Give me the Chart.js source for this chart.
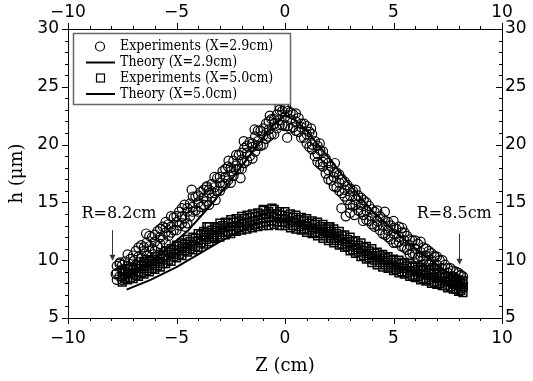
<!DOCTYPE html>
<html>
<head>
<meta charset="utf-8">
<script src="https://cdn.jsdelivr.net/npm/chart.js@4.4.0/dist/chart.umd.min.js"></script>
<style>
  html, body { margin: 0; padding: 0; background: #fff; }
  #wrap { width: 533px; height: 381px; }
</style>
</head>
<body>
<div id="wrap"><canvas id="my-chart"></canvas></div>
<script>
'use strict';

// *************** DATA
// experiments X=2.9cm : [z, h, h, ...]
let circleRows29 = [
  [-7.75, 9.5, 8.9, 8.3], [-7.5, 9.6, 9.2, 8.3], [-7.25, 10.5, 9.5, 9.2], [-7.0, 10.4, 9.9, 9.2],
  [-6.75, 11.1, 10.3, 9.8], [-6.5, 11.1, 10.8, 9.8], [-6.25, 12.1, 11.2, 10.8], [-6.0, 12.2, 11.6, 10.8],
  [-5.75, 12.7, 12.0, 11.4], [-5.5, 12.8, 12.4, 11.5], [-5.25, 13.8, 12.9, 12.4], [-5.0, 13.8, 13.3, 12.6],
  [-4.75, 14.5, 13.8, 13.2], [-4.5, 14.5, 14.2, 13.2], [-4.25, 15.5, 14.6, 14.2], [-4.0, 15.6, 15.0, 14.2],
  [-3.75, 16.1, 15.4, 14.8], [-3.5, 16.1, 15.8, 14.8], [-3.25, 17.2, 16.3, 15.8], [-3.0, 17.2, 16.7, 16.0],
  [-2.75, 17.9, 17.2, 16.6], [-2.5, 18.0, 17.7, 16.7], [-2.25, 19.1, 18.2, 17.8], [-2.0, 19.3, 18.7, 17.9],
  [-1.75, 19.9, 19.3, 18.6], [-1.5, 20.1, 19.8, 18.8], [-1.25, 21.2, 20.3, 19.9], [-1.0, 21.4, 20.8, 20.0],
  [-0.75, 22.0, 21.3, 20.7], [-0.5, 22.2, 21.8, 20.9], [-0.25, 23.0, 22.1, 21.7], [0.0, 23.1, 22.4, 21.6],
  [0.25, 22.8, 22.2, 21.4], [0.5, 22.7, 22.0, 21.2], [0.75, 21.8, 21.5, 20.6], [1.0, 21.6, 20.9, 20.1],
  [1.25, 20.9, 20.0, 19.6], [1.5, 19.9, 19.2, 18.5], [1.75, 19.4, 18.5, 18.1], [2.0, 18.4, 17.8, 17.0],
  [2.25, 17.6, 17.2, 16.4], [2.5, 17.4, 16.7, 16.0], [2.75, 16.8, 16.1, 15.5], [3.0, 16.2, 15.6, 14.8],
  [3.25, 16.1, 15.2, 14.8], [3.5, 15.4, 14.8, 14.2], [3.75, 15.0, 14.3, 13.5], [4.0, 14.4, 13.8, 13.1],
  [4.25, 14.3, 13.4, 13.0], [4.5, 13.6, 13.0, 12.3], [4.75, 13.3, 12.6, 12.0], [5.0, 12.8, 12.3, 11.5],
  [5.25, 12.9, 12.0, 11.6], [5.5, 12.4, 11.7, 11.1], [5.75, 11.8, 11.3, 10.5], [6.0, 11.7, 11.0, 10.5],
  [6.25, 11.6, 10.7, 10.3], [6.5, 11.0, 10.4, 9.9], [6.75, 10.6, 10.0, 9.3], [7.0, 10.3, 9.6, 9.1],
  [7.25, 10.0, 9.3, 8.7], [7.5, 9.3, 8.9, 8.3], [7.75, 9.1, 8.6, 8.0], [8.0, 8.9, 8.3, 7.9],
  [8.2, 8.6, 8.0, 7.6],
  [-7.625, 9.7, 8.6], [-7.375, 9.9, 8.9], [-7.125, 10.1, 9.3], [-6.875, 10.8, 9.6],
  [-6.625, 11.3, 10.2], [-6.375, 11.5, 10.4], [-6.125, 12.0, 11.0], [-5.875, 12.5, 11.2],
  [-5.625, 12.9, 11.8], [-5.375, 13.1, 12.1], [-5.125, 13.7, 12.6], [-4.875, 14.2, 13.0],
  [-4.625, 14.8, 13.6], [-4.375, 14.9, 13.8], [-4.125, 15.5, 14.3], [-3.875, 15.9, 14.6],
  [-3.625, 16.3, 15.1], [-3.375, 16.6, 15.4], [-3.125, 17.1, 16.0], [-2.875, 17.7, 16.4],
  [-2.625, 18.1, 16.9], [-2.375, 18.6, 17.3], [-2.125, 19.1, 17.9], [-1.875, 19.7, 18.4],
  [-1.625, 20.2, 19.0], [-1.375, 20.7, 19.4], [-1.125, 21.2, 19.9], [-0.875, 21.8, 20.5],
  [-0.625, 22.2, 20.9], [-0.375, 22.6, 21.4], [-0.125, 22.9, 21.7], [0.125, 22.9, 21.6],
  [0.375, 22.6, 21.5], [0.625, 22.3, 21.1], [0.875, 21.8, 20.6], [1.125, 21.1, 19.8],
  [1.375, 20.3, 19.0], [1.625, 19.5, 18.3], [1.875, 18.8, 17.5], [2.125, 18.1, 16.9],
  [2.375, 17.6, 16.3], [2.625, 17.0, 15.8], [2.875, 16.5, 15.2], [3.125, 16.0, 14.7],
  [3.375, 15.6, 14.3], [3.625, 15.2, 13.9], [3.875, 14.7, 13.4], [4.125, 14.2, 12.9],
  [4.375, 13.8, 12.6], [4.625, 13.4, 12.2], [4.875, 13.0, 11.8], [5.125, 12.7, 11.5],
  [5.375, 12.4, 11.2], [5.625, 12.1, 10.9], [5.875, 11.7, 10.6], [6.125, 11.4, 10.2],
  [6.375, 11.1, 10.0], [6.625, 10.8, 9.6], [6.875, 10.4, 9.2], [7.125, 10.0, 8.9],
  [7.375, 9.6, 8.5], [7.625, 9.3, 8.2], [7.875, 9.0, 7.9], [8.1, 8.7, 7.7]
];
// stray circles off the band
let circleExtra29 = [
  [-7.6, 9.8], [-7.8, 8.8], [-6.4, 12.3], [-5.5, 13.3], [-4.3, 16.1], [-3.6, 16.4],
  [-2.05, 17.1], [-1.9, 20.3], [-0.7, 22.5], [-0.25, 23.3], [0.05, 23.3], [0.1, 20.6],
  [1.2, 21.4], [2.6, 14.5], [2.8, 13.8], [3.0, 14.1], [3.2, 13.9], [4.6, 14.2],
  [5.0, 13.4], [6.9, 10.3], [8.1, 8.7], [-4.6, 12.9], [-3.2, 15.2], [-2.6, 18.6],
  [-1.4, 21.3], [1.6, 20.1], [2.3, 18.4], [3.6, 13.4], [5.4, 12.8], [6.3, 9.6]
];
// experiments X=5.0cm : [z, h, h, ...]
let squareRows50 = [
  [-7.5, 9.1, 8.6, 8.1], [-7.25, 9.3, 8.8, 8.3], [-7.0, 9.4, 8.9, 8.4], [-6.75, 9.6, 9.0, 8.6],
  [-6.5, 9.9, 9.3, 8.8], [-6.25, 10.0, 9.5, 9.0], [-6.0, 10.3, 9.7, 9.2], [-5.75, 10.5, 9.9, 9.4],
  [-5.5, 10.8, 10.2, 9.7], [-5.25, 11.0, 10.5, 9.9], [-5.0, 11.3, 10.7, 10.2], [-4.75, 11.5, 11.0, 10.4],
  [-4.5, 11.8, 11.2, 10.7], [-4.25, 12.0, 11.4, 10.9], [-4.0, 12.3, 11.7, 11.1], [-3.75, 12.5, 12.0, 11.4],
  [-3.5, 12.9, 12.2, 11.6], [-3.25, 12.9, 12.4, 11.9], [-3.0, 13.2, 12.6, 12.0], [-2.75, 13.3, 12.8, 12.2],
  [-2.5, 13.5, 12.9, 12.3], [-2.25, 13.6, 13.0, 12.5], [-2.0, 13.8, 13.2, 12.6], [-1.75, 13.9, 13.3, 12.7],
  [-1.5, 14.0, 13.4, 12.8], [-1.25, 14.1, 13.5, 12.9], [-1.0, 14.3, 13.6, 13.0], [-0.75, 14.2, 13.7, 13.0],
  [-0.5, 14.4, 13.7, 13.1], [-0.25, 14.2, 13.6, 13.0], [0.0, 14.2, 13.6, 13.0], [0.25, 14.0, 13.4, 12.8],
  [0.5, 13.9, 13.3, 12.7], [0.75, 13.7, 13.1, 12.6], [1.0, 13.6, 13.0, 12.4], [1.25, 13.4, 12.8, 12.3],
  [1.5, 13.3, 12.7, 12.1], [1.75, 13.1, 12.5, 11.9], [2.0, 12.9, 12.3, 11.7], [2.25, 12.7, 12.1, 11.5],
  [2.5, 12.5, 11.9, 11.3], [2.75, 12.2, 11.6, 11.1], [3.0, 12.0, 11.4, 10.8], [3.25, 11.7, 11.1, 10.6],
  [3.5, 11.5, 10.9, 10.3], [3.75, 11.2, 10.6, 10.1], [4.0, 11.0, 10.4, 9.8], [4.25, 10.7, 10.2, 9.6],
  [4.5, 10.5, 10.0, 9.4], [4.75, 10.3, 9.8, 9.3], [5.0, 10.1, 9.6, 9.1], [5.25, 10.0, 9.4, 8.9],
  [5.5, 9.8, 9.3, 8.8], [5.75, 9.7, 9.1, 8.6], [6.0, 9.5, 9.0, 8.5], [6.25, 9.4, 8.8, 8.3],
  [6.5, 9.2, 8.7, 8.2], [6.75, 9.1, 8.5, 8.0], [7.0, 8.9, 8.4, 7.9], [7.25, 8.8, 8.2, 7.8],
  [7.5, 8.6, 8.1, 7.6], [7.75, 8.5, 7.9, 7.5], [8.0, 8.3, 7.8, 7.3], [8.2, 8.2, 7.7, 7.2],
  [-7.375, 9.0, 8.4], [-7.125, 9.2, 8.5], [-6.875, 9.3, 8.7], [-6.625, 9.5, 8.9],
  [-6.375, 9.7, 9.1], [-6.125, 9.9, 9.3], [-5.875, 10.1, 9.5], [-5.625, 10.4, 9.7],
  [-5.375, 10.7, 10.0], [-5.125, 10.9, 10.3], [-4.875, 11.2, 10.5], [-4.625, 11.4, 10.8],
  [-4.375, 11.6, 11.0], [-4.125, 11.9, 11.2], [-3.875, 12.2, 11.5], [-3.625, 12.4, 11.8],
  [-3.375, 12.6, 12.0], [-3.125, 12.8, 12.2], [-2.875, 13.0, 12.4], [-2.625, 13.2, 12.5],
  [-2.375, 13.3, 12.6], [-2.125, 13.4, 12.8], [-1.875, 13.6, 12.9], [-1.625, 13.7, 13.0],
  [-1.375, 13.8, 13.1], [-1.125, 13.9, 13.2], [-0.875, 14.0, 13.3], [-0.625, 14.0, 13.4],
  [-0.375, 14.0, 13.3], [-0.125, 13.9, 13.3], [0.125, 13.8, 13.2], [0.375, 13.7, 13.0],
  [0.625, 13.5, 12.9], [0.875, 13.4, 12.7], [1.125, 13.2, 12.6], [1.375, 13.1, 12.4],
  [1.625, 12.9, 12.3], [1.875, 12.7, 12.1], [2.125, 12.5, 11.9], [2.375, 12.3, 11.7],
  [2.625, 12.1, 11.4], [2.875, 11.8, 11.2], [3.125, 11.6, 10.9], [3.375, 11.3, 10.7],
  [3.625, 11.1, 10.4], [3.875, 10.8, 10.2], [4.125, 10.6, 10.0], [4.375, 10.4, 9.8],
  [4.625, 10.2, 9.6], [4.875, 10.0, 9.4], [5.125, 9.8, 9.2], [5.375, 9.7, 9.0],
  [5.625, 9.5, 8.9], [5.875, 9.4, 8.7], [6.125, 9.2, 8.6], [6.375, 9.1, 8.4],
  [6.625, 8.9, 8.3], [6.875, 8.8, 8.1], [7.125, 8.6, 8.0], [7.375, 8.5, 7.8],
  [7.625, 8.3, 7.7], [7.875, 8.2, 7.5], [8.1, 8.1, 7.4]
];
let squareExtra50 = [[-3.6, 12.9], [-3.3, 12.0], [-1.0, 14.4], [2.07, 12.9], [-0.6, 14.5]];

// theory curves
let theoryZ29 = [-7.6, -6.5, -5.5, -4.5, -3.5, -2.5, -1.5, -0.5, 0, 0.5, 1, 2, 3, 4, 5, 6, 7, 8];
let theoryH29 = [8.1, 9.5, 10.9, 12.5, 14.6, 16.9, 19.4, 21.8, 22.5, 22.1, 21.2, 18.9, 16.5, 14.3, 12.6, 11.0, 9.6, 8.3];
let theoryZ50 = [-7.3, -6.2, -5, -4, -3, -2, -1, -0.3, 0.5, 1.5, 2.5, 3.5, 4.5, 5.5, 6.5, 7.5, 8];
let theoryH50 = [7.45, 8.3, 9.4, 10.5, 11.6, 12.6, 13.3, 13.5, 13.3, 12.8, 12.0, 11.0, 10.0, 9.2, 8.5, 7.9, 7.6];

// arrows marking the edges
let edgeNotes = [
  { text: 'R=8.2cm', z: -7.95, labelZ: -7.65, labelH: 14.0, fromH: 12.6, toH: 9.95 },
  { text: 'R=8.5cm', z: 8.0, labelZ: 7.8, labelH: 14.0, fromH: 12.3, toH: 9.6 }
];

let zTickLabels = [-10, -5, 0, 5, 10];
let hTickLabels = [5, 10, 15, 20, 25, 30];

let legendLabels = ['Experiments (X=2.9cm)', 'Theory (X=2.9cm)', 'Experiments (X=5.0cm)', 'Theory (X=5.0cm)'];

// *************** HELPERS
function rowsToPoints(rows, extra) {
  let pts = [];
  for (let i = 0; i < rows.length; i++) {
    for (let j = 1; j < rows[i].length; j++) {
      pts.push({ x: rows[i][0], y: rows[i][j] });
    }
  }
  extra.forEach(p => pts.push({ x: p[0], y: p[1] }));
  return pts;
}

function pairUp(xs, ys) {
  return xs.map((x, i) => ({ x: x, y: ys[i] }));
}

function fmt(list) {
  return function(v) {
    if (!list.includes(v)) return '';
    return v < 0 ? '\u2212' + Math.abs(v) : String(v);
  };
}

// *************** PLUGINS
const tickMarks = {
  id: 'tickMarks',
  afterDraw(chart) {
    const ctx = chart.ctx;
    ctx.save();
    ctx.strokeStyle = '#000';
    ctx.lineWidth = 1;
    ['x', 'x2', 'y', 'y2'].forEach(id => {
      const s = chart.scales[id];
      s.ticks.forEach(t => {
        const len = t.value % 5 === 0 ? 6 : 3;
        const p = Math.round(s.getPixelForValue(t.value)) + 0.5;
        ctx.beginPath();
        if (id === 'x') { ctx.moveTo(p, s.top); ctx.lineTo(p, s.top + len); }
        if (id === 'x2') { ctx.moveTo(p, s.bottom); ctx.lineTo(p, s.bottom - len); }
        if (id === 'y') { ctx.moveTo(s.right, p); ctx.lineTo(s.right - len, p); }
        if (id === 'y2') { ctx.moveTo(s.left, p); ctx.lineTo(s.left - len, p); }
        ctx.stroke();
      });
    });
    ctx.restore();
  }
};

const edgeArrows = {
  id: 'edgeArrows',
  afterDatasetsDraw(chart) {
    const ctx = chart.ctx;
    const xs = chart.scales.x;
    const ys = chart.scales.y;
    ctx.save();
    edgeNotes.forEach(n => {
      const px = Math.round(xs.getPixelForValue(n.z)) + 0.5;
      const y0 = ys.getPixelForValue(n.fromH);
      const y1 = ys.getPixelForValue(n.toH);
      ctx.strokeStyle = '#333';
      ctx.fillStyle = '#333';
      ctx.lineWidth = 1;
      ctx.beginPath();
      ctx.moveTo(px, y0);
      ctx.lineTo(px, y1 - 5);
      ctx.stroke();
      ctx.beginPath();
      ctx.moveTo(px - 3, y1 - 6);
      ctx.lineTo(px + 3, y1 - 6);
      ctx.lineTo(px, y1);
      ctx.closePath();
      ctx.fill();
      ctx.fillStyle = '#000';
      ctx.font = '16px "DejaVu Serif"';
      ctx.textAlign = 'center';
      ctx.textBaseline = 'middle';
      ctx.fillText(n.text, xs.getPixelForValue(n.labelZ), ys.getPixelForValue(n.labelH));
    });
    ctx.restore();
  }
};

const legendBox = {
  id: 'legendBox',
  afterDraw(chart) {
    const ctx = chart.ctx;
    ctx.save();
    ctx.fillStyle = '#fff';
    ctx.fillRect(73, 33, 218, 72);
    ctx.strokeStyle = '#666';
    ctx.lineWidth = 1.5;
    ctx.strokeRect(73.5, 33.5, 217, 71);
    const rowY = [46.5, 62.5, 78, 94];
    ctx.strokeStyle = '#000';
    // markers
    ctx.lineWidth = 1.2;
    ctx.beginPath();
    ctx.arc(100, rowY[0], 4.5, 0, Math.PI * 2);
    ctx.stroke();
    ctx.strokeRect(96.5, rowY[2] - 4, 8, 8);
    ctx.lineWidth = 2;
    [rowY[1], rowY[3]].forEach(y => {
      ctx.beginPath();
      ctx.moveTo(86, y);
      ctx.lineTo(115, y);
      ctx.stroke();
    });
    ctx.fillStyle = '#000';
    ctx.font = '14px "DejaVu Serif Condensed", "DejaVu Serif"';
    ctx.textAlign = 'left';
    ctx.textBaseline = 'middle';
    legendLabels.forEach((t, i) => ctx.fillText(t, 120, rowY[i]));
    ctx.restore();
  }
};

// *************** CHART
function axis(position, list, min, max, fitSize) {
  return {
    type: 'linear',
    position: position,
    min: min,
    max: max,
    ticks: {
      stepSize: 1,
      autoSkip: false,
      maxRotation: 0,
      color: '#000',
      font: { family: 'DejaVu Sans', size: 17 },
      padding: position === 'bottom' ? 10 : (position === 'top' ? 6 : (position === 'left' ? 9 : 3)),
      callback: fmt(list)
    },
    grid: { display: false, drawTicks: false },
    border: { display: true, color: '#000', width: 1 },
    afterFit: function(s) {
      if (position === 'top' || position === 'bottom') s.height = fitSize;
      else s.width = fitSize;
    }
  };
}

let scaleX = axis('bottom', zTickLabels, -10, 10, 63);
scaleX.title = { display: true, text: 'Z (cm)', color: '#000', font: { family: 'DejaVu Serif', size: 18 }, padding: { top: 0, bottom: 4 } };
let scaleY = axis('left', hTickLabels, 5, 30, 68);
scaleY.title = { display: true, text: 'h (\u03bcm)', color: '#000', font: { family: 'DejaVu Serif', size: 18 }, padding: { top: 7, bottom: 0 } };

let chartObj = {
  type: 'scatter',
  data: {
    datasets: [
      {
        label: legendLabels[1],
        data: pairUp(theoryZ29, theoryH29),
        showLine: true,
        borderColor: '#000',
        borderWidth: 2,
        pointRadius: 0,
        tension: 0
      },
      {
        label: legendLabels[3],
        data: pairUp(theoryZ50, theoryH50),
        showLine: true,
        borderColor: '#000',
        borderWidth: 2,
        pointRadius: 0,
        tension: 0
      },
      {
        label: legendLabels[0],
        data: rowsToPoints(circleRows29, circleExtra29),
        pointStyle: 'circle',
        pointRadius: 4.6,
        borderWidth: 1.2,
        borderColor: '#000',
        backgroundColor: 'rgba(0,0,0,0)'
      },
      {
        label: legendLabels[2],
        data: rowsToPoints(squareRows50, squareExtra50),
        pointStyle: 'rect',
        pointRadius: 5.5,
        borderWidth: 1.5,
        borderColor: '#000',
        backgroundColor: 'rgba(0,0,0,0)'
      }
    ]
  },
  options: {
    responsive: true,
    maintainAspectRatio: false,
    animation: false,
    layout: { padding: 0 },
    plugins: { legend: { display: false }, tooltip: { enabled: false } },
    scales: {
      x: scaleX,
      x2: axis('top', zTickLabels, -10, 10, 29),
      y: scaleY,
      y2: axis('right', hTickLabels, 5, 30, 31)
    }
  },
  plugins: [tickMarks, edgeArrows, legendBox]
};

let ctx = document.getElementById('my-chart').getContext('2d');
let myChart = new Chart(ctx, chartObj);
</script>
</body>
</html>
